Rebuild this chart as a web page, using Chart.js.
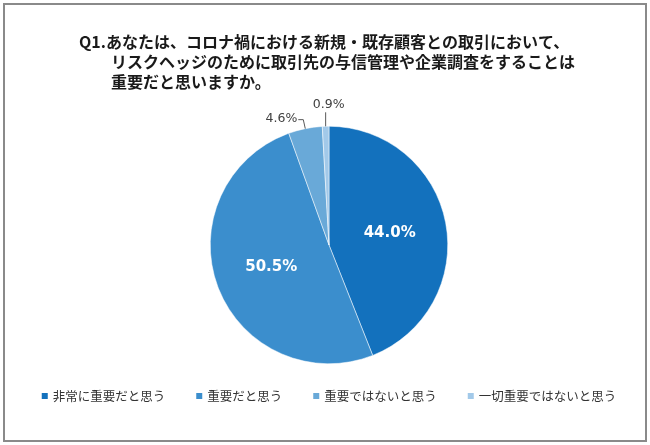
<!DOCTYPE html>
<html>
<head>
<meta charset="utf-8">
<script src="https://cdn.jsdelivr.net/npm/chart.js@4"></script>
<style>
  html, body { margin: 0; padding: 0; background: #fff; }
  #wrap { position: relative; width: 650px; height: 445px; }
  #frame { position: absolute; left: 3px; top: 3px; width: 640px; height: 435px; border: 2px solid #8a8a8a; pointer-events: none; }
  canvas { position: absolute; left: 0; top: 0; }
</style>
</head>
<body>
<div id="wrap">
  <canvas id="pieChart" width="650" height="445"></canvas>
  <div id="frame"></div>
</div>
<script>
const titleLines = [
    "Q1.あなたは、コロナ禍における新規・既存顧客との取引において、",
    "リスクヘッジのために取引先の与信管理や企業調査をすることは",
    "重要だと思いますか。"
];
const categories = ["非常に重要だと思う", "重要だと思う", "重要ではないと思う", "一切重要ではないと思う"];
const shares = [44.0, 50.5, 4.6, 0.9];
const sliceColors = ["#1371bd", "#3b8ecd", "#69a9d8", "#a2c9e9"];

const jpFont = "'Noto Sans CJK JP', 'Noto Sans', sans-serif";
const numFont = "'DejaVu Sans', Verdana, sans-serif";

// title, legend and slice labels are drawn by hand
const extras = {
    id: "extras",
    afterDraw(chart) {
        const ctx = chart.ctx;
        const meta = chart.getDatasetMeta(0);
        ctx.save();

        // title with hanging indent
        ctx.fillStyle = "#1a1a1a";
        ctx.font = "bold 16px " + jpFont;
        ctx.textBaseline = "middle";
        ctx.textAlign = "left";
        titleLines.forEach((line, i) => {
            ctx.fillText(line, i == 0 ? 79 : 111, 42 + i * 20);
        });

        // labels on the slices
        meta.data.forEach((arc, i) => {
            const p = arc.getProps(["x", "y", "startAngle", "endAngle", "outerRadius"]);
            const mid = (p.startAngle + p.endAngle) / 2;
            const txt = shares[i].toFixed(1) + "%";
            if (shares[i] > 10) {
                const r = p.outerRadius * 0.52;
                ctx.fillStyle = "#ffffff";
                ctx.font = "bold 15px " + numFont;
                ctx.textAlign = "center";
                ctx.fillText(txt, p.x + Math.cos(mid) * r, p.y + Math.sin(mid) * r);
            } else {
                const ax = p.x + Math.cos(mid) * p.outerRadius;
                const ay = p.y + Math.sin(mid) * p.outerRadius;
                ctx.strokeStyle = "#595959";
                ctx.lineWidth = 1;
                ctx.fillStyle = "#404040";
                ctx.font = "12.5px " + numFont;
                ctx.beginPath();
                if (shares[i] < 2) {
                    ctx.moveTo(ax, ay);
                    ctx.lineTo(ax, ay - 14);
                    ctx.stroke();
                    ctx.textAlign = "center";
                    ctx.fillText(txt, ax + 3, ay - 22);
                } else {
                    const ex = ax - 2, ey = ay - 9;
                    ctx.moveTo(ax, ay);
                    ctx.lineTo(ex, ey);
                    ctx.lineTo(ex - 5, ey);
                    ctx.stroke();
                    ctx.textAlign = "right";
                    ctx.fillText(txt, ex - 6, ey - 1);
                }
            }
        });

        // legend along the bottom
        ctx.font = "12.5px " + jpFont;
        ctx.textAlign = "left";
        const box = 6, gapBox = 5, gapItem = 31;
        const widths = categories.map(c => box + gapBox + ctx.measureText(c).width);
        const total = widths.reduce((a, b) => a + b, 0) + gapItem * (categories.length - 1);
        let x = 329 - total / 2;
        const ly = 396;
        categories.forEach((c, i) => {
            ctx.fillStyle = sliceColors[i];
            ctx.fillRect(x, ly - box / 2, box, box);
            ctx.fillStyle = "#333333";
            ctx.fillText(c, x + box + gapBox, ly);
            x += widths[i] + gapItem;
        });

        ctx.restore();
    }
};

new Chart(document.getElementById("pieChart").getContext("2d"), {
    type: "pie",
    data: {
        labels: categories,
        datasets: [{
            data: shares,
            backgroundColor: sliceColors,
            borderColor: "#ffffff",
            borderWidth: 0.5
        }]
    },
    options: {
        responsive: false,
        animation: false,
        layout: { padding: { left: 8, right: 0, top: 126, bottom: 81 } },
        plugins: {
            legend: { display: false },
            tooltip: { enabled: false }
        }
    },
    plugins: [extras]
});
</script>
</body>
</html>
